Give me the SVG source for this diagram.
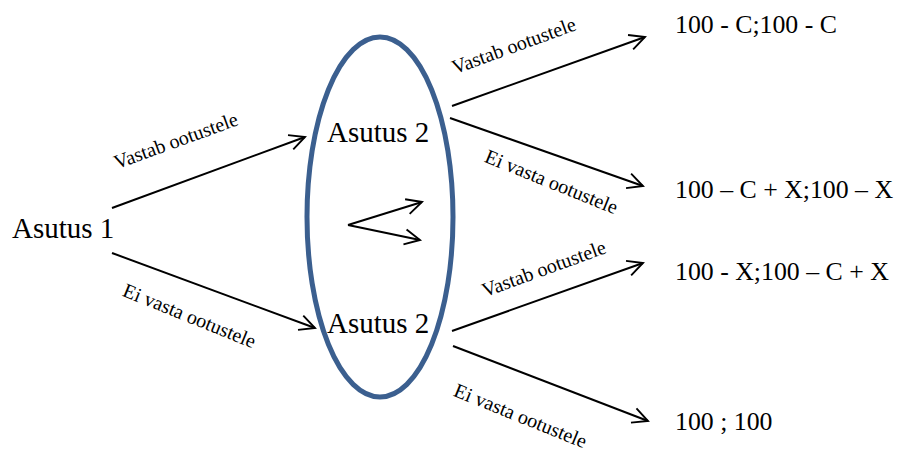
<svg xmlns="http://www.w3.org/2000/svg" width="897" height="453" viewBox="0 0 897 453">
<style>
.big{font-size:29px;fill:#000}
.val{font-size:25.8px;fill:#000}
.lbl{font-size:20px;fill:#000;text-anchor:middle}
.edge{stroke:#000;stroke-width:2;fill:none;marker-end:url(#ah)}
</style>
<defs>
<marker id="ah" viewBox="0 0 20 20" refX="18" refY="10" markerWidth="18" markerHeight="18" markerUnits="userSpaceOnUse" orient="auto" overflow="visible">
<path d="M1,1.5 L18,10 L1,18.5" fill="none" stroke="#000" stroke-width="2.1"/>
</marker>
</defs>
<rect width="897" height="453" fill="#fff"/>
<g id="group-ellipse">
<ellipse cx="380" cy="217" rx="73" ry="180" fill="none" stroke="#3B5F8F" stroke-width="5"/>
</g>
<g id="connectors" font-family="Liberation Serif, serif">
<line class="edge" x1="112" y1="208" x2="305" y2="137"/>
<line class="edge" x1="112" y1="253" x2="315" y2="328"/>
<line class="edge" x1="348" y1="225" x2="422" y2="202"/>
<line class="edge" x1="348" y1="225" x2="420" y2="240"/>
<line class="edge" x1="452" y1="106" x2="645" y2="37"/>
<line class="edge" x1="450" y1="118" x2="643" y2="186"/>
<line class="edge" x1="452" y1="331" x2="643" y2="263"/>
<line class="edge" x1="453" y1="346" x2="648" y2="421"/>
<text class="lbl" font-family="Liberation Serif" transform="translate(178,147) rotate(-20)">Vastab ootustele</text>
<text class="lbl" font-family="Liberation Serif" transform="translate(187,322) rotate(22)">Ei vasta ootustele</text>
<text class="lbl" font-family="Liberation Serif" transform="translate(516,52) rotate(-20)">Vastab ootustele</text>
<text class="lbl" font-family="Liberation Serif" transform="translate(549,188) rotate(22)">Ei vasta ootustele</text>
<text class="lbl" font-family="Liberation Serif" transform="translate(546,275) rotate(-20)">Vastab ootustele</text>
<text class="lbl" font-family="Liberation Serif" transform="translate(518,422) rotate(22)">Ei vasta ootustele</text>
</g>
<g id="asutus1"><text class="big" font-family="Liberation Serif" x="12" y="238">Asutus 1</text></g>
<g id="asutus2-top"><text class="big" font-family="Liberation Serif" x="327" y="142">Asutus 2</text></g>
<g id="asutus2-bottom"><text class="big" font-family="Liberation Serif" x="327" y="333">Asutus 2</text></g>
<g id="out1"><text class="val" font-family="Liberation Serif" x="675" y="33">100 - C;100 - C</text></g>
<g id="out2"><text class="val" font-family="Liberation Serif" x="675" y="198">100 – C + X;100 – X</text></g>
<g id="out3"><text class="val" font-family="Liberation Serif" x="675" y="280">100 - X;100 – C + X</text></g>
<g id="out4"><text class="val" font-family="Liberation Serif" x="675" y="430">100 ; 100</text></g>
</svg>
